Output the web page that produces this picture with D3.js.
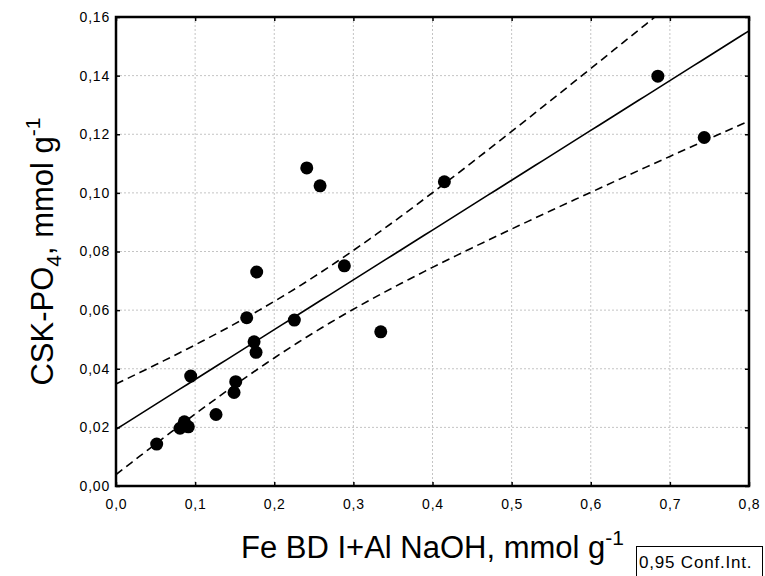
<!DOCTYPE html>
<html>
<head>
<meta charset="utf-8">
<script src="https://cdn.jsdelivr.net/npm/d3@7"></script>
<style>
body { margin: 0; background: #fff; }
svg { display: block; font-family: "Liberation Sans", Arial, sans-serif; }
</style>
</head>
<body>
<div class="chart"></div>
<script>
// measured points (x = Fe BD I + Al NaOH, y = CSK-PO4)
var feAl = [0.0514, 0.0809, 0.0864, 0.0914, 0.0944, 0.1264, 0.1492, 0.1513, 0.1652, 0.1745,
	0.1770, 0.1778, 0.2254, 0.2411, 0.2579, 0.2886, 0.3346, 0.4150, 0.6848, 0.7434];
var cskPO4 = [0.0143, 0.0197, 0.0219, 0.0202, 0.0375, 0.0244, 0.0319, 0.0356, 0.0574, 0.0492,
	0.0456, 0.0730, 0.0566, 0.1085, 0.1024, 0.0751, 0.0526, 0.1038, 0.1398, 0.1189];

var xTicks = [0, 0.1, 0.2, 0.3, 0.4, 0.5, 0.6, 0.7, 0.8];
var yTicks = [0, 0.02, 0.04, 0.06, 0.08, 0.10, 0.12, 0.14, 0.16];
var tCrit = 2.101; // t(0.975, n-2 = 18)

var margin = {
	top: 17,
	right: 16,
	bottom: 90,
	left: 116
};
var W = 765, H = 576;
var width = W - margin.left - margin.right;
var height = H - margin.top - margin.bottom;

var svg = d3.select('.chart')
	.append('svg')
	.attr('width', W)
	.attr('height', H);

var g = svg.append('g')
	.attr('transform', 'translate(' + margin.left + ',' + margin.top + ')');

var x = d3.scaleLinear().domain([0, 0.8]).range([0, width]);
var y = d3.scaleLinear().domain([0, 0.16]).range([height, 0]);

var comma = function (f) {
	return function (d) { return d3.format(f)(d).replace('.', ','); };
};

svg.append('defs').append('clipPath').attr('id', 'plotclip')
	.append('rect').attr('width', width).attr('height', height);

//grid
g.append('g').selectAll('line')
	.data(xTicks.slice(1, -1))
	.enter().append('line')
	.attr('x1', d => x(d)).attr('x2', d => x(d))
	.attr('y1', 0).attr('y2', height)
	.attr('stroke', '#c4c4c4').attr('stroke-width', 1)
	.attr('stroke-dasharray', '2,2');
g.append('g').selectAll('line')
	.data(yTicks.slice(1, -1))
	.enter().append('line')
	.attr('y1', d => y(d)).attr('y2', d => y(d))
	.attr('x1', 0).attr('x2', width)
	.attr('stroke', '#c4c4c4').attr('stroke-width', 1)
	.attr('stroke-dasharray', '2,2');

//regression + confidence band
var n = feAl.length;
var mx = d3.mean(feAl), my = d3.mean(cskPO4);
var sxx = d3.sum(feAl, d => (d - mx) * (d - mx));
var sxy = d3.sum(feAl, (d, i) => (d - mx) * (cskPO4[i] - my));
var slope = sxy / sxx;
var icpt = my - slope * mx;
var sse = d3.sum(feAl, (d, i) => Math.pow(cskPO4[i] - (icpt + slope * d), 2));
var se = Math.sqrt(sse / (n - 2));

var xs = d3.range(0, 0.8001, 0.01);
var band = function (d, sign) {
	var h = tCrit * se * Math.sqrt(1 / n + (d - mx) * (d - mx) / sxx);
	return icpt + slope * d + sign * h;
};

var lines = g.append('g').attr('clip-path', 'url(#plotclip)');
lines.append('path')
	.datum(xs)
	.attr('fill', 'none').attr('stroke', '#000').attr('stroke-width', 1.6)
	.attr('d', d3.line().x(d => x(d)).y(d => y(icpt + slope * d)));
[1, -1].forEach(function (s) {
	lines.append('path')
		.datum(xs)
		.attr('fill', 'none').attr('stroke', '#000').attr('stroke-width', 1.6)
		.attr('stroke-dasharray', '8,5')
		.attr('d', d3.line().x(d => x(d)).y(d => y(band(d, s))));
});

//points
g.append('g').selectAll('circle')
	.data(feAl)
	.enter().append('circle')
	.attr('cx', d => x(d))
	.attr('cy', (d, i) => y(cskPO4[i]))
	.attr('r', 6.5)
	.attr('fill', '#000');

//axes (ticks inside, on all four sides)
var axStyle = function (sel) {
	sel.select('.domain').remove();
	sel.selectAll('.tick line').attr('stroke', '#000').attr('stroke-width', 1.5);
	sel.selectAll('.tick text').attr('fill', '#000').style('font-size', '14px')
		.style('letter-spacing', '0.8px')
		.style('font-family', '"Liberation Sans", Arial, sans-serif');
};

g.append('g')
	.attr('transform', 'translate(0,' + height + ')')
	.call(d3.axisBottom(x).tickValues(xTicks).tickFormat(comma('.1f')).tickSizeInner(-4).tickSizeOuter(0).tickPadding(13))
	.call(axStyle);
g.append('g')
	.call(d3.axisTop(x).tickValues(xTicks).tickFormat('').tickSizeInner(-4).tickSizeOuter(0))
	.call(axStyle);
g.append('g')
	.call(d3.axisLeft(y).tickValues(yTicks).tickFormat(comma('.2f')).tickSizeInner(-4).tickSizeOuter(0).tickPadding(6))
	.call(axStyle);
g.append('g')
	.attr('transform', 'translate(' + width + ',0)')
	.call(d3.axisRight(y).tickValues(yTicks).tickFormat('').tickSizeInner(-4).tickSizeOuter(0))
	.call(axStyle);

g.append('rect')
	.attr('width', width).attr('height', height)
	.attr('fill', 'none').attr('stroke', '#000').attr('stroke-width', 2.5);

//titles
var xt = svg.append('text')
	.attr('x', margin.left + width / 2)
	.attr('y', 558)
	.attr('text-anchor', 'middle')
	.style('font-size', '31px');
xt.append('tspan').text('Fe BD I+Al NaOH, mmol g');
xt.append('tspan').attr('dy', -13).style('font-size', '21px').text('-1');

var yt = svg.append('text')
	.attr('transform', 'translate(53,' + (margin.top + height / 2) + ') rotate(-90)')
	.attr('text-anchor', 'middle')
	.style('font-size', '31px');
yt.append('tspan').text('CSK-PO');
yt.append('tspan').attr('dy', 8).style('font-size', '21px').text('4');
yt.append('tspan').attr('dy', -8).text(', mmol g');
yt.append('tspan').attr('dy', -13).style('font-size', '21px').text('-1');

//legend
svg.append('rect')
	.attr('x', 636.5).attr('y', 546.5)
	.attr('width', 126).attr('height', 40)
	.attr('fill', '#fff').attr('stroke', '#000').attr('stroke-width', 1);
svg.append('text')
	.attr('x', 639).attr('y', 568)
	.style('font-size', '17px')
	.style('letter-spacing', '0.8px')
	.text('0,95 Conf.Int.');
</script>
</body>
</html>
